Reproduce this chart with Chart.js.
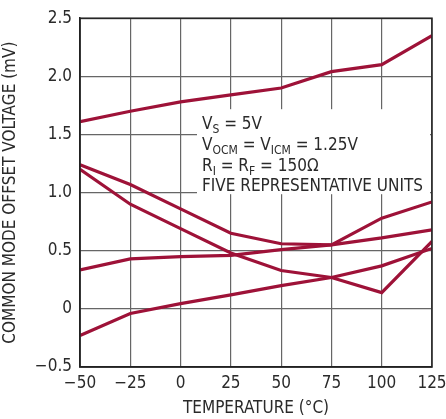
<!DOCTYPE html>
<html><head><meta charset="utf-8">
<script src="https://cdn.jsdelivr.net/npm/chart.js@4/dist/chart.umd.min.js"></script>
<style>html,body{margin:0;padding:0;background:#fff}#wrap{width:446px;height:419px}</style>
</head><body><div id="wrap"><canvas id="c" width="446" height="419"></canvas></div>
<script>
const temps = [-50, -25, 0, 25, 50, 75, 100, 125];
const unit1 = [1.61, 1.70, 1.78, 1.84, 1.90, 2.04, 2.10, 2.35];
const unit2 = [1.24, 1.07, 0.86, 0.65, 0.56, 0.55, 0.78, 0.92];
const unit3 = [1.20, 0.90, 0.69, 0.48, 0.33, 0.27, 0.14, 0.58];
const unit4 = [0.335, 0.43, 0.45, 0.46, 0.51, 0.55, 0.61, 0.68];
const unit5 = [-0.23, -0.04, 0.045, 0.12, 0.20, 0.27, 0.37, 0.52];
const yTicks = [-0.5, 0, 0.5, 1.0, 1.5, 2.0, 2.5];
const yTickLabels = ["\u22120.5", "0", "0.5", "1.0", "1.5", "2.0", "2.5"];
const xTickLabels = ["\u221250", "\u221225", "0", "25", "50", "75", "100", "125"];

const FONT = "'Liberation Sans Narrow', 'DejaVu Sans Condensed', 'Liberation Sans', sans-serif";
const RED = '#9e1238';
const series = [unit1, unit2, unit3, unit4, unit5];

const boxPlugin = {
  id: 'noteBox',
  beforeDatasetsDraw(chart) {
    const ctx = chart.ctx, a = chart.chartArea;
    const x0 = a.left + 117, y0 = a.top + 91, w = a.right - 2 - x0, h = 85;
    ctx.save();
    ctx.fillStyle = '#fff';
    ctx.fillRect(x0, y0, w, h);
    ctx.fillStyle = '#2a2a2a';
    ctx.textBaseline = 'alphabetic';
    const big = '17px ' + FONT, small = '12px ' + FONT;
    const lines = [
      [['V', 0], ['S', 1], [' = 5V', 0]],
      [['V', 0], ['OCM', 1], [' = V', 0], ['ICM', 1], [' = 1.25V', 0]],
      [['R', 0], ['I', 1], [' = R', 0], ['F', 1], [' = 150\u03A9', 0]],
      [['FIVE REPRESENTATIVE UNITS', 0]]
    ];
    let by = y0 + 20;
    for (const ln of lines) {
      let x = x0 + 5;
      for (const [t, sub] of ln) {
        ctx.font = sub ? small : big;
        ctx.fillText(t, x, sub ? by + 4 : by);
        x += ctx.measureText(t).width;
      }
      by += 20.7;
    }
    ctx.restore();
  }
};

new Chart(document.getElementById('c'), {
  type: 'line',
  data: {
    datasets: series.map(s => ({
      data: temps.map((t, i) => ({x: t, y: s[i]})),
      borderColor: RED,
      borderWidth: 3.2,
      pointRadius: 0,
      tension: 0,
      fill: false
    }))
  },
  options: {
    responsive: false,
    animation: false,
    devicePixelRatio: 1,
    layout: {padding: {top: 16, right: 14, left: 0, bottom: 0}},
    plugins: {legend: {display: false}, tooltip: {enabled: false}},
    scales: {
      x: {
        type: 'linear', min: -50, max: 125,
        afterBuildTicks: s => { s.ticks = temps.map(v => ({value: v})); },
        afterFit: s => { s.height = 52; s.paddingLeft = 0; s.paddingRight = 0; },
        grid: {color: '#666', lineWidth: 1.2, drawTicks: false},
        border: {color: '#222', width: 1.5},
        ticks: {
          color: '#2a2a2a', font: {family: FONT, size: 17}, padding: 6, maxRotation: 0, autoSkip: false,
          callback: (v) => { const i = temps.indexOf(v); return i >= 0 ? xTickLabels[i] : ''; }
        },
        title: {display: true, text: 'TEMPERATURE (\u00B0C)', color: '#2a2a2a', font: {family: FONT, size: 17}, padding: {top: 0, bottom: 0}}
      },
      y: {
        type: 'linear', min: -0.5, max: 2.5,
        afterBuildTicks: s => { s.ticks = yTicks.map(v => ({value: v})); },
        afterFit: s => { s.width = 80; },
        grid: {color: '#666', lineWidth: 1.2, drawTicks: false},
        border: {color: '#222', width: 1.5},
        ticks: {
          color: '#2a2a2a', font: {family: FONT, size: 17}, padding: 8, autoSkip: false,
          callback: (v) => { const i = yTicks.indexOf(v); return i >= 0 ? yTickLabels[i] : ''; }
        },
        title: {display: true, text: 'COMMON MODE OFFSET VOLTAGE (mV)', color: '#2a2a2a', font: {family: FONT, size: 17}, padding: {top: 0, bottom: 4}}
      }
    }
  },
  plugins: [boxPlugin, {
    id: 'frame',
    afterDatasetsDraw(chart) {
      const ctx = chart.ctx, a = chart.chartArea;
      ctx.save();
      ctx.strokeStyle = '#222'; ctx.lineWidth = 1.5;
      ctx.strokeRect(a.left, a.top, a.right - a.left, a.bottom - a.top);
      ctx.restore();
    }
  }]
});
</script>
</body></html>
